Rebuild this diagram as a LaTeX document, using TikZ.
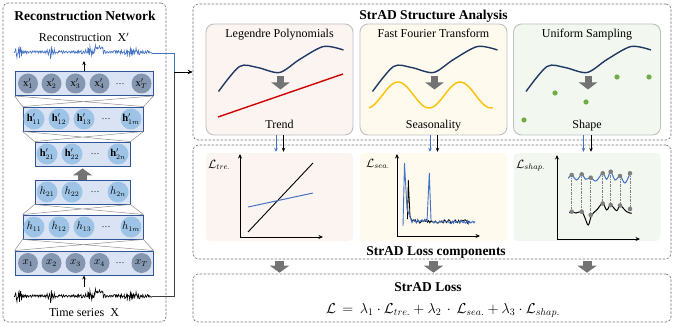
\documentclass[tikz,border=0pt]{standalone}
\usepackage{amsmath}
\usepackage{fontspec}
\setmainfont{Liberation Serif}
\usepackage{tikz}
\usetikzlibrary{arrows.meta, positioning, calc}
\usepackage{xcolor}
\definecolor{layerfill}{HTML}{DAE3F3}
\definecolor{layerline}{HTML}{2F5597}
\definecolor{xunitfill}{HTML}{8496B0}
\definecolor{hunitfill}{HTML}{9DC3E6}
\definecolor{curvenavy}{HTML}{203864}
\definecolor{trendred}{HTML}{D00000}
\definecolor{seasonyellow}{HTML}{FFC000}
\definecolor{shapegreen}{HTML}{70AD47}
\definecolor{pinkbg}{HTML}{FCF4F1}
\definecolor{yellowbg}{HTML}{FEFAEE}
\definecolor{greenbg}{HTML}{F2F8EF}
\definecolor{seriesblue}{HTML}{4472C4}
\definecolor{arrowgray}{HTML}{737373}
\tikzstyle{panel} = [rectangle, rounded corners=5pt, inner sep=0pt, draw=black!55, dash pattern=on 2.5pt off 1.5pt, line width=0.6pt]
\tikzstyle{card} = [rectangle, rounded corners=8pt, inner sep=0pt, draw=black!25, line width=0.9pt, minimum width=147pt, minimum height=111pt]
\tikzstyle{plotbg} = [rectangle, rounded corners=4pt, inner sep=0pt, minimum width=147pt, minimum height=88pt]
\tikzstyle{layer} = [rectangle, inner sep=0pt, draw=layerline, fill=layerfill, line width=0.9pt, minimum height=24pt]
\tikzstyle{xunit} = [circle, fill=xunitfill, minimum size=20pt, inner sep=0pt, font=\fontsize{10.5}{12}\selectfont]
\tikzstyle{hunit} = [circle, fill=hunitfill, minimum size=21pt, inner sep=0pt, font=\fontsize{10.5}{12}\selectfont]
\tikzstyle{unitdots} = [inner sep=0pt, font=\fontsize{9}{11}\selectfont]
\tikzstyle{headline} = [inner sep=0pt, font=\fontsize{13.5}{16}\selectfont\bfseries]
\tikzstyle{txt} = [inner sep=0pt, font=\fontsize{12}{14}\selectfont]
\tikzstyle{wire} = [draw=black!45, line width=0.5pt]
\tikzstyle{arrow} = [line width=0.9pt,->,>={Stealth[length=5pt,width=4.5pt]}]
\tikzstyle{thinarrow} = [line width=0.7pt,->,>={Stealth[length=4pt,width=3.5pt]}]
\tikzstyle{plotaxis} = [line width=0.9pt,{Stealth[length=4.5pt,width=4pt]}-{Stealth[length=4.5pt,width=4pt]}]
\tikzstyle{fatarrow} = [draw=arrowgray, line width=9pt, -{Triangle[length=7pt,width=19pt]}]
\tikzstyle{cardarrow} = [draw=arrowgray, line width=7pt, -{Triangle[length=7pt,width=18pt]}]

\begin{document}
\begin{tikzpicture}[x=1pt, y=-1pt,
  declare function={wave(\wv)=(0.9+9/(1+((\wv-5)/3)*((\wv-5)/3))+7/(1+((\wv-37)/2)*((\wv-37)/2))+9/(1+((\wv-76)/4)*((\wv-76)/4))+5/(1+((\wv-118)/8)*((\wv-118)/8)))*(0.6*rand+0.4*sin(150*mod(\wv,12)))-4*(\wv>81)*(\wv<89);}]
  \useasboundingbox (0,0) rectangle (674,326);

  % Reconstruction Network
  \node[panel, minimum width=163pt, minimum height=319pt] (network) at (84.5,162.5) {};
  \node[headline, anchor=base] (networktitle) at (85,21) {Reconstruction Network};
  \node[txt, anchor=base] (recontitle) at (84,42) {Reconstruction\ \ $\mathrm{X}'$};
  \node[txt, anchor=base] (inputtitle) at (84,316) {Time series\ \ X};

  % series
  \pgfmathsetseed{11}
  \draw[seriesblue, line width=0.6pt] plot[domain=0:138, samples=330] ({14+\x}, {52+wave(\x)});
  \pgfmathsetseed{11}
  \draw[black, line width=0.6pt] plot[domain=0:138, samples=330] ({14+\x}, {296+wave(\x)});
  \coordinate (reconEnd) at (152,53);
  \coordinate (reconIn) at (84,61);
  \coordinate (inputEnd) at (152,296);
  \coordinate (inputOut) at (84,287);

  % layers
  \node[layer, minimum width=138pt] (xout) at (84,83.5) {};
  \node[layer, minimum width=120pt] (hout1) at (83,119) {};
  \node[layer, minimum width=95pt] (hout2) at (82.5,154) {};
  \node[layer, minimum width=95pt] (hin2) at (82.5,192) {};
  \node[layer, minimum width=120pt] (hin1) at (83,227) {};
  \node[layer, minimum width=138pt] (xin) at (84,263) {};

  \foreach \up/\down in {xout/hout1, hout1/hout2, hin2/hin1, hin1/xin}
    \draw[wire] (\up.south west) -- (\down.north west) (\up.south west) -- (\down.north east)
                (\up.south east) -- (\down.north east) (\up.south east) -- (\down.north west);

  % units
  \foreach \px/\lab [count=\i] in {28/1, 51.5/2, 75.5/3, 99.5/4, 141.5/T} {
    \node[xunit] (xout\i) at (\px,83.5) {$\mathrm{x}'_{\lab}$};
    \node[xunit] (xin\i) at (\px,263) {$x_{\lab}$};
  }
  \node[unitdots] (xoutdots) at (120,84) {\dots};
  \node[unitdots] (xindots) at (120,263.5) {\dots};
  \foreach \px/\lab [count=\i] in {34/11, 59/12, 84/13, 131/1m} {
    \node[hunit] (hout1\i) at (\px,119) {$\mathbf{h}'_{\lab}$};
    \node[hunit] (hin1\i) at (\px,227) {$h_{\lab}$};
  }
  \node[unitdots] (hout1dots) at (106,119.5) {\dots};
  \node[unitdots] (hin1dots) at (106,227.5) {\dots};
  \foreach \px/\lab [count=\i] in {47/21, 72/22, 118/2n} {
    \node[hunit] (hout2\i) at (\px,154) {$\mathbf{h}'_{\lab}$};
    \node[hunit] (hin2\i) at (\px,192) {$h_{\lab}$};
  }
  \node[unitdots] (hout2dots) at (95,154.5) {\dots};
  \node[unitdots] (hin2dots) at (95,192.5) {\dots};

  \draw[fatarrow, shorten >=2pt] (hin2.north) -- (hout2.south);
  \draw[thinarrow] (xout.north) -- (reconIn);
  \draw[thinarrow] (inputOut) -- (xin.south);

  % StrAD Structure Analysis
  \node[panel, minimum width=478pt, minimum height=136pt] (analysis) at (432,72) {};
  \node[headline, anchor=base] (analysistitle) at (433.5,19.5) {StrAD Structure Analysis};
  \node[card, fill=pinkbg] (legendre) at (279.5,79.5) {};
  \node[card, fill=yellowbg] (fourier) at (433.5,79.5) {};
  \node[card, fill=greenbg] (sampling) at (587,79.5) {};

  \foreach \c/\cardhead/\cardtail in {legendre/Legendre Polynomials/Trend, fourier/Fast Fourier Transform/Seasonality, sampling/Uniform Sampling/Shape} {
    \node[txt, anchor=base] (\c-head) at ([yshift=-13.5pt]\c.north) {\cardhead};
    \node[txt, anchor=base] (\c-tail) at ([yshift=7pt]\c.south) {\cardtail};
    \begin{scope}[shift={(\c.center)}]
      \draw[curvenavy, line width=1.4pt] plot[smooth] coordinates {(-61,12) (-40,-13) (-22,-12) (0,-7) (20,-20) (44,-33) (64,-29.5)};
      \draw[cardarrow] (1,-3) -- (1,10);
    \end{scope}
  }
  \begin{scope}[shift={(legendre.center)}]
    \draw[trendred, line width=1.4pt] (-61.5,37.5) -- (63.5,-5.5);
  \end{scope}
  \begin{scope}[shift={(fourier.center)}]
    \draw[seasonyellow, line width=1.4pt] plot[domain=-64.5:59.5, samples=80, smooth] (\x, {15.5-13*cos((\x+35.5)*5.806)});
  \end{scope}
  \begin{scope}[shift={(sampling.center)}]
    \foreach \px/\py in {-63/40.5, -32/13.5, -1/22.5, 30/-2.5, 62/-2.5}
      \fill[shapegreen] (\px,\py) circle (2.6pt);
  \end{scope}

  % StrAD Loss components
  \node[panel, minimum width=478pt, minimum height=114pt] (components) at (432,202) {};
  \node[plotbg, fill=pinkbg] (trendplot) at (279.5,197) {};
  \node[plotbg, fill=yellowbg] (seasonplot) at (433.5,197) {};
  \node[plotbg, fill=greenbg] (shapeplot) at (587,197) {};
  \node[headline, anchor=base] (componentstitle) at (436,255) {StrAD Loss components};

  % trend loss
  \draw[plotaxis] (240,154) |- (323,237);
  \draw[black, line width=0.9pt] (248,232) -- (313,163);
  \draw[seriesblue, line width=1pt] (248,207) -- (313,193);
  \node[txt, anchor=base west] (trendloss) at (208,168) {$\mathcal{L}_{tre.}$};

  % seasonality loss
  \draw[plotaxis] (397,154) |- (480,236);
  \pgfmathsetseed{5}
  \draw[black, line width=0.8pt] (407.5,219) -- (408.3,180) -- (410,216) -- plot[domain=412:472, samples=55] (\x, {221.5+1.8*rand});
  \draw[seriesblue, line width=0.9pt] (403,226) -- (404.5,163) -- (407,209) -- (410,217) -- plot[domain=412:427, samples=14] (\x, {221+1.8*rand}) -- (429.3,173) -- (431,220) -- plot[domain=433:475, samples=40] (\x, {222+1.8*rand});
  \node[txt, anchor=base west] (seasonloss) at (366,167) {$\mathcal{L}_{sea.}$};

  % shape loss
  \draw[plotaxis] (557,155) |- (640,239);
  \draw[seriesblue, line width=1pt] plot[smooth, tension=0.6] coordinates {(568.3,178.3) (571.7,175) (576.7,180) (581.7,174.3) (585.7,179.3) (590.7,177.7) (596,181) (602.7,173.3) (606.7,179.3) (610.7,171.7) (615,180) (620,176) (625,183) (630,173.3)};
  \draw[black, line width=1pt] plot[smooth, tension=0.6] coordinates {(569.3,212.7) (571.7,211.7) (576,213) (581.7,211.7) (585,218) (588.3,225) (591.7,215) (596.7,210) (602.7,203.5) (606.7,210) (610.7,205) (616.7,210.7) (620,205.5) (626.7,211.7) (631.7,213.3)};
  \foreach \px/\pb/\pk in {571.7/175/211.7, 581.7/174.3/211.7, 590.7/177.7/215, 602.7/173.3/203.5, 610.7/171.7/205, 620/176/205.5, 630/173.3/209} {
    \draw[gray, dash pattern=on 2pt off 1pt on 0.5pt off 1pt, line width=0.6pt] (\px,\pb) -- (\px,\pk);
    \fill[gray] (\px,\pb) circle (2.3pt) (\px,\pk) circle (2.3pt);
  }
  \node[txt, anchor=base west] (shapeloss) at (516,168) {$\mathcal{L}_{shap.}$};

  % StrAD Loss
  \node[panel, minimum width=478pt, minimum height=48pt] (loss) at (432,298) {};
  \node[headline, anchor=base] (losstitle) at (428,291) {StrAD Loss};
  \node[txt, font=\fontsize{14.4}{17}\selectfont, anchor=base] (lossformula) at (443,313) {$\mathcal{L} \,=\, \lambda_1 \cdot \mathcal{L}_{tre.} + \lambda_2 \,\cdot\, \mathcal{L}_{sea.} + \lambda_3 \cdot \mathcal{L}_{shap.}$};

  % Connections
  \coordinate (joint) at (174,72);
  \draw[seriesblue, line width=0.8pt] (reconEnd) -| (joint);
  \draw[black!75, line width=0.9pt] (inputEnd) -| (joint);
  \draw[arrow] (joint) -- (analysis.west);
  \foreach \c/\p in {legendre/trendplot, fourier/seasonplot, sampling/shapeplot} {
    \draw[thinarrow, seriesblue] ([xshift=-3.5pt]\c.south) -- ([xshift=-3.5pt, yshift=1pt]\p.north);
    \draw[thinarrow] ([xshift=4pt]\c.south) -- ([xshift=4pt, yshift=1pt]\p.north);
  }
  \foreach \p in {trendplot, seasonplot, shapeplot}
    \draw[fatarrow, shorten <=2pt, shorten >=1pt] (components.south -| \p.center) -- (loss.north -| \p.center);
\end{tikzpicture}
\end{document}
